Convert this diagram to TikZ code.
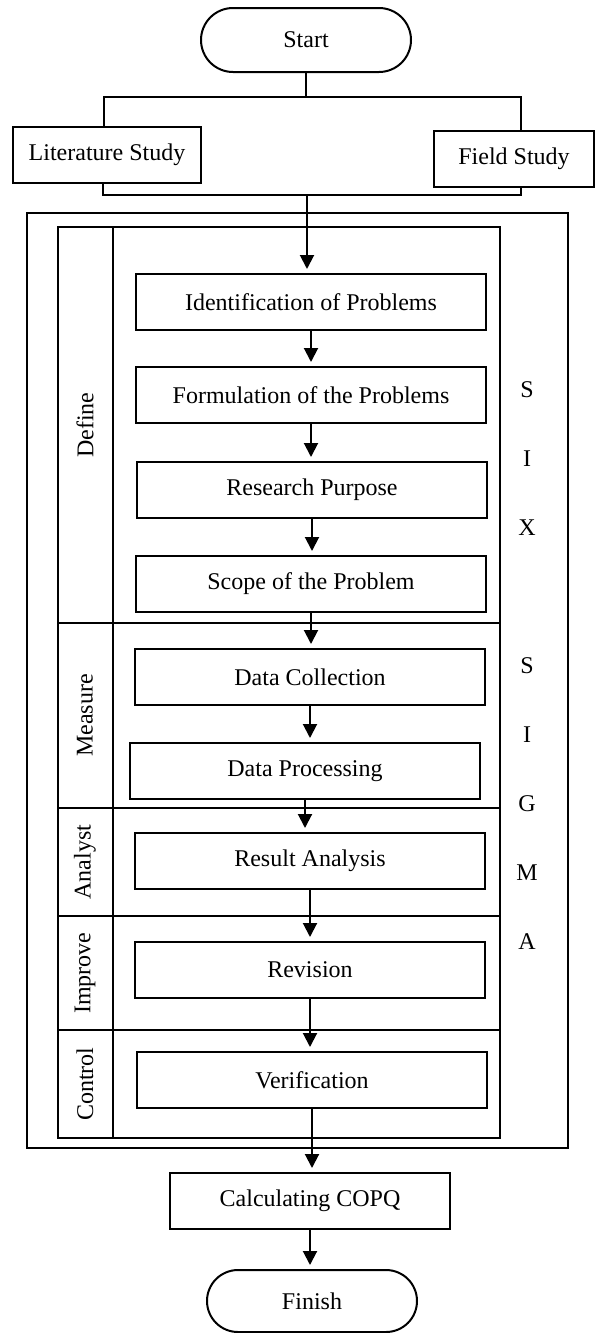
\documentclass[tikz,border=0pt]{standalone}
\usepackage{fontspec}
\setmainfont{Liberation Serif}
\usetikzlibrary{arrows.meta,calc}

\begin{document}
\begin{tikzpicture}[x=0.5pt,y=-0.5pt,
  every node/.style={font=\fontsize{12}{14}\selectfont},
  stepbox/.style={draw,line width=1pt,minimum width=175pt,minimum height=28pt,inner sep=0pt},
  termbox/.style={draw,line width=1pt,rounded corners=16pt,minimum width=105pt,minimum height=32pt,inner sep=0pt},
  lane/.style={draw,line width=1.3pt},
  link/.style={line width=1pt},
  arr/.style={line width=1pt,-{Triangle[length=7pt,width=7pt]},shorten >=2pt}]
\useasboundingbox (0,0) rectangle (595,1333);

\node[termbox] (start) at (306,40) {Start};
\node[stepbox,minimum width=94pt] (lit) at (107,155) {Literature Study};
\node[stepbox,minimum width=80pt] (field) at (514,159) {Field Study};

\coordinate (forkL) at (104,97);
\coordinate (forkR) at (521,97);
\coordinate (joinL) at (103,195);
\coordinate (joinR) at (521,195);
\coordinate (join) at (307,195);

% frame and lanes
\draw[link] (27,213) rectangle (568,1148);
\foreach \top/\bot/\name in {227/623/Define,623/808/Measure,808/916/Analyst,916/1030/Improve,1030/1138/Control}{
  \draw[lane] (58,\top) rectangle (500,\bot);
  \draw[lane] (113,\top) -- (113,\bot);
  \node[rotate=90] (lane\name) at (85,{(\top+\bot)/2}) {\name};
}

\foreach \ch/\yy [count=\i] in {S/390,I/459,X/528,S/666,I/735,G/804,M/873,A/942}
  \node (sig\i) at (527,\yy) {\ch};

\node[stepbox] (ident) at (311,302) {Identification of Problems};
\node[stepbox] (form) at (311,395) {Formulation of the Problems};
\node[stepbox] (purp) at (312,490) {Research Purpose};
\node[stepbox] (scope) at (311,584) {Scope of the Problem};
\node[stepbox] (coll) at (310,677) {Data Collection};
\node[stepbox] (proc) at (305,771) {Data Processing};
\node[stepbox] (anal) at (310,861) {Result Analysis};
\node[stepbox] (rev) at (310,970) {Revision};
\node[stepbox] (verif) at (312,1080) {Verification};
\node[stepbox,minimum width=140pt] (copq) at (310,1201) {Calculating COPQ};
\node[termbox,minimum height=31pt,rounded corners=15.5pt] (finish) at (312,1301) {Finish};

% connectors
\draw[link] (start) -- (start |- forkL);
\draw[link] (lit.north -| forkL) |- (forkR) -- (forkR |- field.north);
\draw[link] (lit.south -| joinL) |- (joinR) -- (joinR |- field.south);
\draw[arr] (join) -- (join |- ident.north);
\foreach \a/\b in {ident/form,form/purp,purp/scope,scope/coll,coll/proc,proc/anal,anal/rev,rev/verif,verif/copq,copq/finish}
  \draw[arr] (\a) -- (\a |- \b.north);

\end{tikzpicture}
\end{document}
